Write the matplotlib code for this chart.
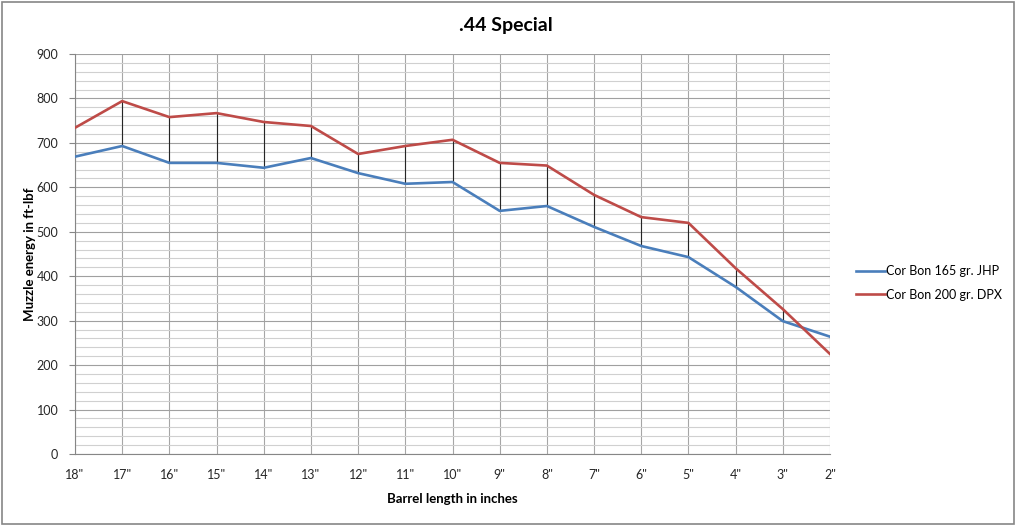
import matplotlib
matplotlib.use("Agg")
import matplotlib.pyplot as plt
from matplotlib.ticker import MultipleLocator
from matplotlib.patches import Rectangle

categories = ['18"', '17"', '16"', '15"', '14"', '13"', '12"', '11"', '10"',
              '9"', '8"', '7"', '6"', '5"', '4"', '3"', '2"']
jhp_165 = [669, 693, 655, 655, 644, 666, 632, 608, 612, 547, 558, 511, 468, 443, 376, 299, 264]
dpx_200 = [734, 794, 758, 767, 747, 738, 675, 693, 707, 655, 649, 583, 533, 520, 418, 326, 225]
series_names = ["Cor Bon 165 gr. JHP", "Cor Bon 200 gr. DPX"]

plt.rcParams['font.family'] = ['Lato', 'DejaVu Sans']

fig = plt.figure(figsize=(10.16, 5.26), dpi=100)
ax = fig.add_axes([75/1016, 1-454/526, (830-75)/1016, (454-54)/526])

x = list(range(len(categories)))
ax.set_xlim(0, len(categories)-1)
ax.set_ylim(0, 900)

ax.yaxis.set_major_locator(MultipleLocator(100))
ax.yaxis.set_minor_locator(MultipleLocator(20))
ax.grid(which='minor', axis='y', color='#d0d0d0', lw=0.8, zorder=0)
ax.grid(which='major', axis='y', color='#a0a0a0', lw=0.8, zorder=0)
ax.grid(which='major', axis='x', color='#a6a6a6', lw=0.8, zorder=0)

# high-low lines
ax.vlines(x, [min(a, b) for a, b in zip(jhp_165, dpx_200)],
          [max(a, b) for a, b in zip(jhp_165, dpx_200)], color='#262626', lw=0.8, zorder=2)

ax.plot(x, jhp_165, color='#4a7ebb', lw=1.9, label=series_names[0], zorder=3)
ax.plot(x, dpx_200, color='#be4b48', lw=1.9, label=series_names[1], zorder=3)

ax.set_xticks(x)
ax.set_xticklabels(categories)
ax.tick_params(axis='x', length=0, pad=11, labelsize=9, colors='#262626')
ax.tick_params(axis='y', which='both', length=0, pad=8, labelsize=9, colors='#262626')
ax.tick_params(axis='y', which='major', length=4, direction='out', color='#868686', left=True)

for s in ['top', 'right']:
    ax.spines[s].set_visible(False)
for s in ['left', 'bottom']:
    ax.spines[s].set_color('#868686')
    ax.spines[s].set_linewidth(0.8)

ax.set_xlabel("Barrel length in inches", fontsize=9.5, fontweight='bold', va='center')
ax.set_ylabel("Muzzle energy in ft-lbf", fontsize=9.5, fontweight='bold', va='center')
ax.xaxis.set_label_coords(0.5, -(499-454)/400)
ax.yaxis.set_label_coords(-(75-30)/755, 0.5)
fig.suptitle(".44 Special", x=506/1016, y=1-26/526, va='center', fontsize=14, fontweight='bold')

leg = ax.legend(loc='center left', bbox_to_anchor=(845/1016, 1-283/526), bbox_transform=fig.transFigure,
                frameon=False, fontsize=9, handlelength=2.3, handletextpad=0.1, labelspacing=0.9)

fig.patches.append(Rectangle((0.002, 0.003), 0.996, 0.994, transform=fig.transFigure,
                             fill=False, edgecolor='#868686', lw=1.2))

fig.savefig("out.png", dpi=100)
